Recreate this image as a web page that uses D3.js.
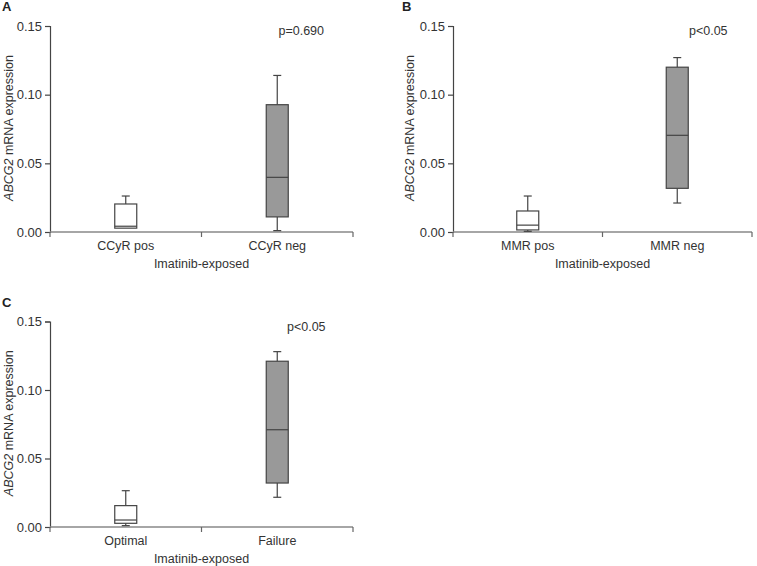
<!DOCTYPE html>
<html>
<head>
<meta charset="utf-8">
<script src="https://cdn.jsdelivr.net/npm/d3@7"></script>
<style>
  html, body { margin: 0; padding: 0; background: #fff; }
  svg { display: block; font-family: "Liberation Sans", Arial, sans-serif; }
</style>
</head>
<body>
<svg id="chart" width="757" height="566"></svg>
<script>
// ---- Data ----
const panelLetters = ["A", "B", "C"];
const categoriesA = ["CCyR pos", "CCyR neg"];
const categoriesB = ["MMR pos", "MMR neg"];
const categoriesC = ["Optimal", "Failure"];
const pLabels = ["p=0.690", "p<0.05", "p<0.05"];
const yTicks = [0, 0.05, 0.10, 0.15];
const yTickLabels = ["0.00", "0.05", "0.10", "0.15"];
const xTitle = "Imatinib-exposed";

// box statistics per panel: [pos, neg]
const minsA    = [0.0028, 0.001];
const q1sA     = [0.0028, 0.011];
const mediansA = [0.0042, 0.0398];
const q3sA     = [0.0204, 0.0927];
const maxsA    = [0.0262, 0.114];

const minsB    = [0.0005, 0.0211];
const q1sB     = [0.0015, 0.0318];
const mediansB = [0.0050, 0.0704];
const q3sB     = [0.0153, 0.120];
const maxsB    = [0.0262, 0.127];

const minsC    = [0.0010, 0.0217];
const q1sC     = [0.0027, 0.0321];
const mediansC = [0.0051, 0.0710];
const q3sC     = [0.0156, 0.121];
const maxsC    = [0.0265, 0.128];

const boxFills = ["#ffffff", "#999999"];

// ---- Layout ----
const panels = [
  { letter: panelLetters[0], cats: categoriesA, p: pLabels[0],
    stats: { min: minsA, q1: q1sA, med: mediansA, q3: q3sA, max: maxsA },
    x0: 50, x1: 353, yTop: 26, yBot: 232, letterX: 2, letterY: 11, labelX: 13, pOff: 24 },
  { letter: panelLetters[1], cats: categoriesB, p: pLabels[1],
    stats: { min: minsB, q1: q1sB, med: mediansB, q3: q3sB, max: maxsB },
    x0: 453, x1: 752, yTop: 26, yBot: 232, letterX: 402, letterY: 11, labelX: 414, pOff: 31 },
  { letter: panelLetters[2], cats: categoriesC, p: pLabels[2],
    stats: { min: minsC, q1: q1sC, med: mediansC, q3: q3sC, max: maxsC },
    x0: 50, x1: 353, yTop: 321.5, yBot: 527, letterX: 2, letterY: 307, labelX: 13, pOff: 29 }
];

const svg = d3.select("#chart");

panels.forEach(P => {
  const g = svg.append("g");
  const x = d3.scaleBand().domain(P.cats).range([P.x0, P.x1]);
  const y = d3.scaleLinear().domain([0, 0.15]).range([P.yBot, P.yTop]);

  // panel letter
  g.append("text").attr("x", P.letterX).attr("y", P.letterY)
    .attr("font-size", 13).attr("font-weight", "bold").attr("fill", "#222")
    .text(P.letter);

  // y axis
  const yAxis = d3.axisLeft(y).tickValues(yTicks)
    .tickFormat((d, i) => yTickLabels[i]).tickSizeOuter(0).tickSize(5).tickPadding(3);
  const ya = g.append("g").attr("transform", `translate(${P.x0},0)`).call(yAxis);
  ya.select(".domain").attr("stroke", "#444").attr("stroke-width", 1.2);
  ya.selectAll(".tick line").attr("stroke", "#444").attr("stroke-width", 1.2);
  ya.selectAll(".tick text").attr("font-size", 13).attr("fill", "#333")
    .attr("font-family", "Liberation Sans, Arial, sans-serif");

  // x axis (ticks at band boundaries)
  const xa = g.append("g").attr("transform", `translate(0,${P.yBot})`);
  xa.append("line").attr("x1", P.x0).attr("x2", P.x1).attr("y1", 0).attr("y2", 0)
    .attr("stroke", "#888").attr("stroke-width", 1.6);
  const bounds = [P.x0, x(P.cats[1]), P.x1];
  xa.selectAll("line.tk").data(bounds).enter().append("line").attr("class", "tk")
    .attr("x1", d => d).attr("x2", d => d).attr("y1", 0).attr("y2", 5)
    .attr("stroke", "#666").attr("stroke-width", 1.2);
  xa.selectAll("text.cat").data(P.cats).enter().append("text").attr("class", "cat")
    .attr("x", d => x(d) + x.bandwidth() / 2).attr("y", 18)
    .attr("text-anchor", "middle").attr("font-size", 12.5).attr("fill", "#333")
    .text(d => d);
  xa.append("text").attr("x", (P.x0 + P.x1) / 2).attr("y", 36)
    .attr("text-anchor", "middle").attr("font-size", 12.5).attr("fill", "#333")
    .text(xTitle);

  // y label
  const yl = g.append("text")
    .attr("transform", `translate(${P.labelX},${(P.yTop + P.yBot) / 2 - 1}) rotate(-90)`)
    .attr("text-anchor", "middle").attr("font-size", 12.5).attr("fill", "#333");
  yl.append("tspan").attr("font-style", "italic").text("ABCG2");
  yl.append("tspan").text(" mRNA expression");

  // p label
  g.append("text").attr("x", x(P.cats[1]) + x.bandwidth() / 2 + P.pOff).attr("y", y(0.15) + 9)
    .attr("text-anchor", "middle").attr("font-size", 12.5).attr("fill", "#333")
    .text(P.p);

  // boxes
  const bw = 22, cw = 8;
  const S = P.stats;
  P.cats.forEach((c, i) => {
    const cx = x(c) + x.bandwidth() / 2;
    const bg = g.append("g");
    // upper whisker
    bg.append("line").attr("x1", cx).attr("x2", cx).attr("y1", y(S.q3[i])).attr("y2", y(S.max[i]))
      .attr("stroke", "#444").attr("stroke-width", 1.2);
    bg.append("line").attr("x1", cx - cw / 2).attr("x2", cx + cw / 2).attr("y1", y(S.max[i])).attr("y2", y(S.max[i]))
      .attr("stroke", "#444").attr("stroke-width", 1.2);
    // lower whisker
    if (S.min[i] < S.q1[i]) {
      bg.append("line").attr("x1", cx).attr("x2", cx).attr("y1", y(S.q1[i])).attr("y2", y(S.min[i]))
        .attr("stroke", "#444").attr("stroke-width", 1.2);
      bg.append("line").attr("x1", cx - cw / 2).attr("x2", cx + cw / 2).attr("y1", y(S.min[i])).attr("y2", y(S.min[i]))
        .attr("stroke", "#444").attr("stroke-width", 1.2);
    }
    // box
    bg.append("rect").attr("x", cx - bw / 2).attr("y", y(S.q3[i]))
      .attr("width", bw).attr("height", y(S.q1[i]) - y(S.q3[i]))
      .attr("fill", boxFills[i]).attr("stroke", "#444").attr("stroke-width", 1.2);
    // median
    bg.append("line").attr("x1", cx - bw / 2).attr("x2", cx + bw / 2)
      .attr("y1", y(S.med[i])).attr("y2", y(S.med[i]))
      .attr("stroke", "#444").attr("stroke-width", 1.2);
  });
});
</script>
</body>
</html>
